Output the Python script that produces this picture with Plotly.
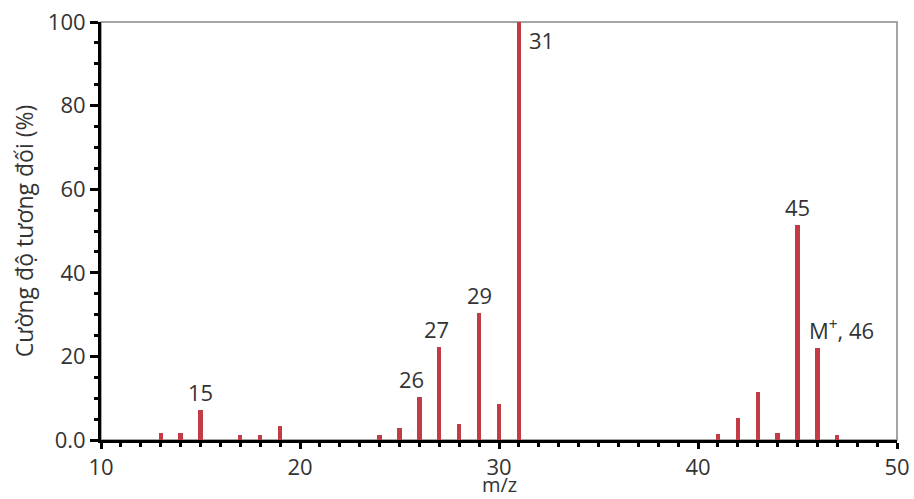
import plotly.graph_objects as go

mz = [13, 14, 15, 17, 18, 19, 24, 25, 26, 27, 28, 29, 30, 31, 41, 42, 43, 44, 45, 46, 47]
intensity = [1.6, 1.6, 7.2, 1.2, 1.2, 3.3, 1.2, 2.9, 10.2, 22.3, 3.8, 30.5, 8.5, 100,
             1.5, 5.3, 11.6, 1.6, 51.4, 22.0, 1.2]

label_mz = [15, 26, 27, 29, 31, 45, 46]
label_text = ["15", "26", "27", "29", "31", "45", "M<sup>+</sup>, 46"]
label_xshift = [0, -8, -3, 0, 8, 0, -10]
label_xanchor = ["center", "center", "center", "center", "left", "center", "left"]

x_ticks = [10, 20, 30, 40, 50]
y_ticks = [0, 20, 40, 60, 80, 100]
y_ticktext = ["0.0", "20", "40", "60", "80", "100"]
x_title = "m/z"
y_title = "Cường độ tương đối (%)"

FONT = "Open Sans"
TXT = "#333333"
BAR = "#c23b45"

fig = go.Figure()
fig.add_trace(go.Bar(x=mz, y=intensity, width=0.22, marker=dict(color=BAR, line=dict(width=0)),
                     hoverinfo="x+y"))

lookup = dict(zip(mz, intensity))
for m, t, xs, xa in zip(label_mz, label_text, label_xshift, label_xanchor):
    if m == 31:
        fig.add_annotation(x=m, y=lookup[m], text=t, showarrow=False, xanchor=xa, yanchor="top",
                           xshift=xs, yshift=-1, font=dict(family=FONT, size=22, color=TXT))
    else:
        fig.add_annotation(x=m, y=lookup[m], text=t, showarrow=False, xanchor=xa, yanchor="bottom",
                           xshift=xs, yshift=1, font=dict(family=FONT, size=22, color=TXT))

# x-axis title placed at the bottom edge, below the tick labels
fig.add_annotation(x=0.5, y=0, xref="paper", yref="paper", text=x_title, showarrow=False,
                   xanchor="center", yanchor="bottom", yshift=-59, borderpad=0,
                   font=dict(family=FONT, size=20, color=TXT))

# gray frame (top/right)
fig.add_shape(type="rect", xref="paper", yref="paper", x0=0, y0=0, x1=1, y1=1,
              line=dict(color="#888888", width=1.5), layer="below")

fig.update_layout(
    width=914, height=499,
    margin=dict(l=101, r=17, t=22, b=59, autoexpand=False),
    paper_bgcolor="white", plot_bgcolor="white",
    showlegend=False, bargap=0,
    font=dict(family=FONT, size=22, color=TXT),
    xaxis=dict(range=[10, 50], tickvals=x_ticks, showgrid=False, zeroline=False, automargin=False,
               showline=True, linecolor="black", linewidth=3,
               ticks="outside", ticklen=6, tickwidth=3, tickcolor="black",
               minor=dict(dtick=1, ticks="outside", ticklen=4, tickwidth=3, tickcolor="black", showgrid=False),
               tickfont=dict(family=FONT, size=22, color=TXT)),
    yaxis=dict(range=[0, 100], tickvals=y_ticks, ticktext=y_ticktext, showgrid=False, zeroline=False,
               automargin=False,
               showline=True, linecolor="black", linewidth=3,
               ticks="outside", ticklen=8, tickwidth=3, tickcolor="black",
               minor=dict(dtick=5, ticks="outside", ticklen=4, tickwidth=3, tickcolor="black", showgrid=False),
               tickfont=dict(family=FONT, size=22, color=TXT),
               title=dict(text=y_title, standoff=8,
                          font=dict(family=FONT, size=23, color=TXT))),
)

fig.write_html("out.html")
